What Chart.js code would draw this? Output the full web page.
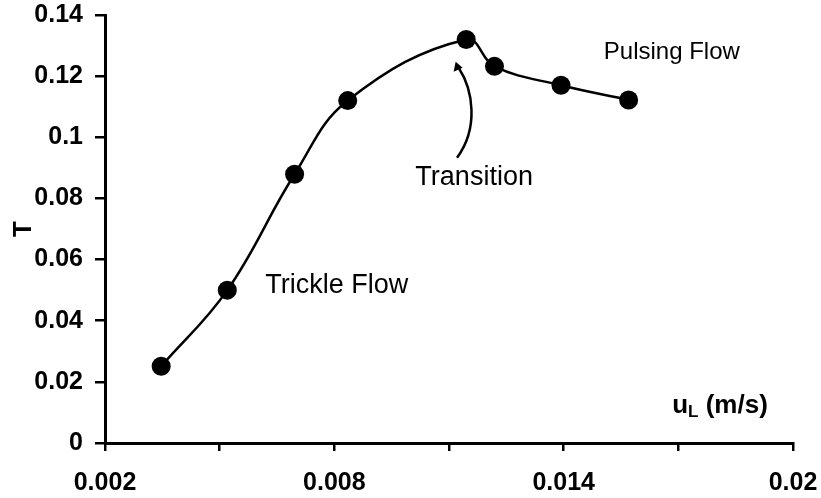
<!DOCTYPE html>
<html>
<head>
<meta charset="utf-8">
<script src="https://cdn.jsdelivr.net/npm/chart.js@4/dist/chart.umd.min.js"></script>
<style>
  html, body { margin: 0; padding: 0; background: #fff; }
  #wrap { width: 821px; height: 498px; }
</style>
</head>
<body>
<div id="wrap"><canvas id="myChart" width="821" height="498"></canvas></div>
<script>
// values
var uL = [0.00347, 0.0052, 0.00696, 0.00835, 0.01145, 0.01219, 0.01393, 0.0157];
var tValues = [0.0251, 0.050, 0.0879, 0.112, 0.132, 0.1232, 0.117, 0.1122];

var xTicks = [0.002, 0.005, 0.008, 0.011, 0.014, 0.017, 0.02];
var xTickLabels = ['0.002', '', '0.008', '', '0.014', '', '0.02'];
var yTicks = [0, 0.02, 0.04, 0.06, 0.08, 0.1, 0.12, 0.14];
var yTickLabels = ['0', '0.02', '0.04', '0.06', '0.08', '0.1', '0.12', '0.14'];

var FONT = '"Liberation Sans", Arial, sans-serif';

// text notes drawn onto the plot
var notesPlugin = {
    id: 'notes',
    afterDatasetsDraw: function (chart) {
        var ctx = chart.ctx;
        var xs = chart.scales.x, ys = chart.scales.y;
        function px(v) { return xs.getPixelForValue(v); }
        function py(v) { return ys.getPixelForValue(v); }

        ctx.save();
        ctx.fillStyle = '#000';
        ctx.textBaseline = 'alphabetic';
        ctx.textAlign = 'left';
        ctx.font = '27px ' + FONT;
        ctx.fillText('Trickle Flow', px(0.00619), py(0.0490));
        ctx.fillText('Transition', px(0.01012), py(0.0845));
        ctx.font = '24px ' + FONT;
        ctx.fillText('Pulsing Flow', px(0.01505), py(0.1255));

        // axis title u_L (m/s)
        var x0 = px(0.01684), y0 = py(0.0097);
        ctx.font = 'bold 26px ' + FONT;
        ctx.fillText('u', x0, y0);
        var w = ctx.measureText('u').width;
        ctx.font = 'bold 17px ' + FONT;
        ctx.fillText('L', x0 + w, y0 + 4);
        var w2 = ctx.measureText('L').width;
        ctx.font = 'bold 26px ' + FONT;
        ctx.fillText(' (m/s)', x0 + w + w2, y0);

        // curved arrow to the transition point
        var sx = px(0.01121), sy = py(0.0933);
        var tx = px(0.01120), tyy = py(0.1247);
        ctx.strokeStyle = '#000';
        ctx.lineWidth = 2.5;
        ctx.beginPath();
        ctx.moveTo(sx, sy);
        ctx.bezierCurveTo(sx + 22, sy - 30, sx + 16, tyy + 28, tx + 2, tyy + 6);
        ctx.stroke();
        ctx.beginPath();
        ctx.moveTo(tx - 1, tyy);
        ctx.lineTo(tx - 3, tyy + 10);
        ctx.lineTo(tx + 6, tyy + 6);
        ctx.closePath();
        ctx.fill();
        ctx.restore();
    }
};

var ctx = document.getElementById('myChart').getContext('2d');
var myChart = new Chart(ctx, {
    type: 'scatter',
    data: {
        datasets: [{
            data: uL.map(function (x, i) { return { x: x, y: tValues[i] }; }),
            showLine: true,
            tension: 0.4,
            borderColor: '#000',
            borderWidth: 2.5,
            backgroundColor: '#000',
            pointRadius: 9.5,
            pointHoverRadius: 9.5,
            pointBorderWidth: 0
        }]
    },
    options: {
        responsive: false,
        animation: false,
        events: [],
        layout: { padding: { top: 15, right: 28, left: 0, bottom: 0 } },
        plugins: {
            legend: { display: false },
            tooltip: { enabled: false }
        },
        scales: {
            x: {
                type: 'linear',
                min: 0.002,
                max: 0.02,
                afterBuildTicks: function (scale) {
                    scale.ticks = xTicks.map(function (v) { return { value: v }; });
                },
                afterFit: function (scale) {
                    scale.height = 55;
                    scale.paddingLeft = 0;
                    scale.paddingRight = 0;
                },
                ticks: {
                    autoSkip: false,
                    maxRotation: 0,
                    padding: 17,
                    color: '#000',
                    font: { family: FONT, size: 25, weight: 'bold' },
                    callback: function (v, i) { return xTickLabels[i]; }
                },
                grid: {
                    drawOnChartArea: false,
                    drawTicks: true,
                    tickLength: 8,
                    color: '#000',
                    lineWidth: 2.5
                },
                border: { color: '#000', width: 3 }
            },
            y: {
                type: 'linear',
                min: 0,
                max: 0.14,
                afterBuildTicks: function (scale) {
                    scale.ticks = yTicks.map(function (v) { return { value: v }; });
                },
                afterFit: function (scale) {
                    scale.width = 105;
                    scale.paddingTop = 0;
                    scale.paddingBottom = 0;
                },
                ticks: {
                    autoSkip: false,
                    padding: 12,
                    color: '#000',
                    font: { family: FONT, size: 25, weight: 'bold' },
                    callback: function (v, i) { return yTickLabels[i]; }
                },
                title: {
                    display: true,
                    text: 'T',
                    color: '#000',
                    padding: { top: 8, bottom: 0 },
                    font: { family: FONT, size: 26, weight: 'bold' }
                },
                grid: {
                    drawOnChartArea: false,
                    drawTicks: true,
                    tickLength: 10,
                    color: '#000',
                    lineWidth: 2.5
                },
                border: { color: '#000', width: 3 }
            }
        }
    },
    plugins: [notesPlugin]
});
</script>
</body>
</html>
